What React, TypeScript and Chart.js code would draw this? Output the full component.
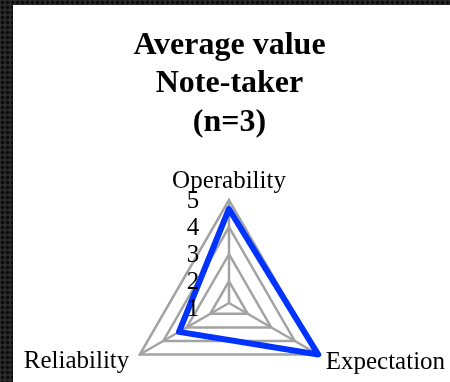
import React, { useEffect, useRef } from "react";
import { Chart, registerables } from "chart.js";

Chart.register(...registerables);

const TITLE_LINES = ["Average value", "Note-taker", "(n=3)"];
const CATEGORIES = ["Operability", "Expectation", "Reliability"];
const VALUES = [4.67, 5, 3.33];
const TICK_VALUES = [1, 2, 3, 4, 5];
const SCALE_MIN = 1.2;
const SCALE_MAX = 5;

const FONT = "'Liberation Serif', 'Times New Roman', Times, serif";
const GRID_COLOR = "#a3a3a3";
const LINE_COLOR = "#0033ff";

const labelPlugin = {
  id: "customLabels",
  afterDatasetsDraw(chart: any) {
    const scale = chart.scales.r;
    const ctx = chart.ctx;
    ctx.save();
    ctx.fillStyle = "#000";
    ctx.font = `25px ${FONT}`;
    // radial tick labels, left of the vertical axis
    ctx.textAlign = "center";
    ctx.textBaseline = "middle";
    TICK_VALUES.forEach((v) => {
      const d = scale.getDistanceFromCenterForValue(v);
      ctx.fillText(String(v), scale.xCenter - 36, scale.yCenter - d + 1.5);
    });
    // point labels
    ctx.textBaseline = "alphabetic";
    CATEGORIES.forEach((label, i) => {
      const p = scale.getPointPosition(i, scale.drawingArea);
      const dx = p.x - scale.xCenter;
      if (Math.abs(dx) < 1) {
        ctx.textAlign = "center";
        ctx.fillText(label, p.x, p.y - 11.7);
      } else if (dx > 0) {
        ctx.textAlign = "left";
        ctx.fillText(label, p.x + 7.5, p.y + 14.5);
      } else {
        ctx.textAlign = "right";
        ctx.fillText(label, p.x - 10.5, p.y + 13.5);
      }
    });
    ctx.restore();
  },
};

export default function App() {
  const ref = useRef<HTMLCanvasElement | null>(null);

  useEffect(() => {
    document.body.style.margin = "0";
    if (!ref.current) return;
    const chart = new Chart(ref.current, {
      type: "radar",
      data: {
        labels: CATEGORIES,
        datasets: [
          {
            label: "Average value",
            data: VALUES,
            borderColor: LINE_COLOR,
            backgroundColor: "rgba(0,0,0,0)",
            borderWidth: 6,
            borderJoinStyle: "round",
            pointRadius: 0,
            pointHoverRadius: 0,
            fill: false,
            tension: 0,
          },
        ],
      },
      options: {
        responsive: false,
        maintainAspectRatio: false,
        animation: false,
        events: [],
        layout: { padding: { left: 0, right: 4, top: 0, bottom: 0 } },
        plugins: {
          legend: { display: false },
          tooltip: { enabled: false },
          title: {
            display: true,
            text: TITLE_LINES,
            color: "#000",
            font: { family: FONT, size: 32, weight: "bold", lineHeight: 1.2 },
            padding: { top: 21.5, bottom: 58.5 },
          },
        },
        scales: {
          r: {
            min: SCALE_MIN,
            max: SCALE_MAX,
            afterBuildTicks: (axis: any) => {
              axis.ticks = TICK_VALUES.map((v) => ({ value: v }));
            },
            ticks: { display: false },
            grid: { color: GRID_COLOR, lineWidth: 2.5, circular: false },
            angleLines: { display: true, color: GRID_COLOR, lineWidth: 2.5 },
            pointLabels: { display: false },
          },
        },
      },
      plugins: [labelPlugin],
    } as any);
    return () => chart.destroy();
  }, []);

  return (
    <div
      style={{
        position: "fixed",
        left: 0,
        top: 0,
        width: 450,
        height: 382,
        backgroundColor: "#2c2c2c",
        backgroundImage:
          "radial-gradient(circle at 50% 50%, #0e0e0e 0 1.5px, rgba(0,0,0,0) 2.3px)",
        backgroundSize: "5px 5px",
        overflow: "hidden",
      }}
    >
      <div
        style={{
          position: "absolute",
          left: 13,
          top: 5,
          width: 437,
          height: 377,
          background: "#fff",
          overflow: "hidden",
        }}
      >
        <canvas ref={ref} width={437} height={402} style={{ display: "block" }} />
      </div>
    </div>
  );
}
